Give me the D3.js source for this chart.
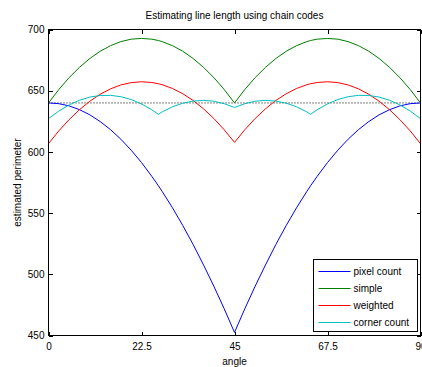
<!DOCTYPE html>
<html>
<head>
<meta charset="utf-8">
<script src="https://cdn.jsdelivr.net/npm/d3@7"></script>
<style>
  body { margin: 0; background: #fff; }
  svg { display: block; font-family: "Liberation Sans", Arial, sans-serif; }
</style>
</head>
<body>
<script>
// values
const angles = [0, 2.5, 5, 7.5, 10, 12.5, 15, 17.5, 20, 22.5, 25, 26.6, 27.5, 30, 32.5, 35, 37.5, 40, 42.5, 45,
  47.5, 50, 52.5, 55, 57.5, 60, 62.5, 63.4, 65, 67.5, 70, 72.5, 75, 77.5, 80, 82.5, 85, 87.5, 90];

const pixelCount = [640.0, 639.4, 637.6, 634.5, 630.3, 624.8, 618.2, 610.4, 601.4, 591.3, 580.0, 572.3, 567.7, 554.3, 539.8, 524.3, 507.7, 490.3, 471.9, 452.5,
  471.9, 490.3, 507.7, 524.3, 539.8, 554.3, 567.7, 572.3, 580.0, 591.3, 601.4, 610.4, 618.2, 624.8, 630.3, 634.5, 637.6, 639.4, 640.0];

const simple = [640.0, 651.0, 660.7, 669.1, 676.3, 682.2, 686.8, 690.1, 692.1, 692.7, 692.1, 691.0, 690.1, 686.8, 682.2, 676.3, 669.1, 660.7, 651.0, 640.0,
  651.0, 660.7, 669.1, 676.3, 682.2, 686.8, 690.1, 691.0, 692.1, 692.7, 692.1, 690.1, 686.8, 682.2, 676.3, 669.1, 660.7, 651.0, 640.0];

const weighted = [606.7, 617.2, 626.4, 634.5, 641.4, 647.1, 651.5, 654.7, 656.6, 657.3, 656.7, 655.7, 654.9, 651.8, 647.5, 642.0, 635.2, 627.3, 618.1, 607.8,
  618.1, 627.3, 635.2, 642.0, 647.5, 651.8, 654.9, 655.7, 656.7, 657.3, 656.6, 654.7, 651.5, 647.1, 641.4, 634.5, 626.4, 617.2, 606.7];

const cornerCount = [627.2, 633.4, 638.4, 642.2, 644.8, 646.1, 646.2, 645.1, 642.8, 639.2, 634.4, 630.7, 632.7, 636.9, 639.8, 641.5, 642.1, 641.4, 639.4, 636.3,
  639.4, 641.4, 642.1, 641.5, 639.8, 636.9, 632.7, 630.7, 634.4, 639.2, 642.8, 645.1, 646.2, 646.1, 644.8, 642.2, 638.4, 633.4, 627.2];

const trueAngles = [0, 90];
const trueLength = [640, 640];

const seriesNames = ["pixel count", "simple", "weighted", "corner count"];
const seriesColors = ["#0000ff", "#008000", "#ff0000", "#00bfbf"];
const seriesValues = [pixelCount, simple, weighted, cornerCount];

const xTicks = [0, 22.5, 45, 67.5, 90];
const yTicks = [450, 500, 550, 600, 650, 700];

const width = 422, height = 367;
const plotL = 48.5, plotR = 420.5, plotT = 29.5, plotB = 335.5;

const svg = d3.select("body").append("svg")
  .attr("width", width)
  .attr("height", height);

const x = d3.scaleLinear().domain([0, 90]).range([plotL, plotR]);
const y = d3.scaleLinear().domain([450, 700]).range([plotB, plotT]);

const line = d3.line()
  .x(d => x(d[0]))
  .y(d => y(d[1]));

// dotted true length
svg.append("path")
  .datum(trueAngles.map((a, i) => [a, trueLength[i]]))
  .attr("d", line)
  .attr("fill", "none")
  .attr("stroke", "#000")
  .attr("stroke-width", 1)
  .attr("stroke-dasharray", "1,2");

seriesValues.forEach((vals, k) => {
  svg.append("path")
    .datum(angles.map((a, i) => [a, vals[i]]))
    .attr("d", line)
    .attr("fill", "none")
    .attr("stroke", seriesColors[k])
    .attr("stroke-width", 1);
});

// axes (ticks pointing inward, mirrored on top/right)
const fmt = d => String(d);
const axisStyle = g => {
  g.select(".domain").remove();
  g.selectAll("line").attr("stroke", "#000").attr("shape-rendering", "crispEdges");
  g.selectAll("text").attr("font-size", 10).attr("fill", "#000")
    .attr("font-family", "'Liberation Sans', Arial, sans-serif");
};

svg.append("g")
  .attr("transform", `translate(0,${plotB})`)
  .call(d3.axisBottom(x).tickValues(xTicks).tickFormat(fmt).tickSizeInner(-4).tickSizeOuter(0).tickPadding(7))
  .call(axisStyle);

svg.append("g")
  .attr("transform", `translate(0,${plotT})`)
  .call(d3.axisTop(x).tickValues(xTicks).tickFormat("").tickSizeInner(-4).tickSizeOuter(0))
  .call(axisStyle);

svg.append("g")
  .attr("transform", `translate(${plotL},0)`)
  .call(d3.axisLeft(y).tickValues(yTicks).tickFormat(fmt).tickSizeInner(-4).tickSizeOuter(0).tickPadding(4))
  .call(axisStyle);

svg.append("g")
  .attr("transform", `translate(${plotR},0)`)
  .call(d3.axisRight(y).tickValues(yTicks).tickFormat("").tickSizeInner(-4).tickSizeOuter(0))
  .call(axisStyle);

// frame
svg.append("rect")
  .attr("x", plotL).attr("y", plotT)
  .attr("width", plotR - plotL).attr("height", plotB - plotT)
  .attr("fill", "none")
  .attr("stroke", "#000")
  .attr("shape-rendering", "crispEdges");

// title and labels
svg.append("text")
  .attr("x", (plotL + plotR) / 2).attr("y", 19)
  .attr("text-anchor", "middle")
  .attr("font-size", 10)
  .text("Estimating line length using chain codes");

svg.append("text")
  .attr("x", (plotL + plotR) / 2).attr("y", 365)
  .attr("text-anchor", "middle")
  .attr("font-size", 10)
  .text("angle");

svg.append("text")
  .attr("transform", `translate(21,${(plotT + plotB) / 2}) rotate(-90)`)
  .attr("text-anchor", "middle")
  .attr("font-size", 10)
  .text("estimated perimeter");

// legend
const legend = svg.append("g").attr("transform", "translate(313.5,259.5)");
legend.append("rect")
  .attr("width", 104).attr("height", 72)
  .attr("fill", "#fff")
  .attr("stroke", "#000")
  .attr("shape-rendering", "crispEdges");

const items = legend.selectAll(".item")
  .data(seriesNames)
  .enter()
  .append("g")
  .attr("class", "item")
  .attr("transform", (d, i) => `translate(0,${12 + i * 17})`);

items.append("line")
  .attr("x1", 5).attr("x2", 37)
  .attr("y1", 0).attr("y2", 0)
  .attr("stroke", (d, i) => seriesColors[i])
  .attr("stroke-width", 1);

items.append("text")
  .attr("x", 40).attr("y", 0)
  .attr("dy", "0.35em")
  .attr("font-size", 10)
  .text(d => d);
</script>
</body>
</html>
